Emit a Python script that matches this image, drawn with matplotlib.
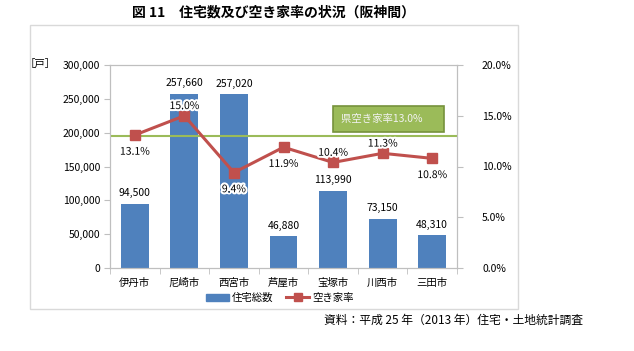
import matplotlib
matplotlib.use("Agg")
import matplotlib.pyplot as plt
import matplotlib.patheffects as pe
from matplotlib.patches import Rectangle
from matplotlib.lines import Line2D
from matplotlib.ticker import FuncFormatter

plt.rcParams['font.family'] = ['Noto Sans CJK JP', 'DejaVu Sans']

cities = ['伊丹市', '尼崎市', '西宮市', '芦屋市', '宝塚市', '川西市', '三田市']
houses = [94500, 257660, 257020, 46880, 113990, 73150, 48310]
vacancy = [13.1, 15.0, 9.4, 11.9, 10.4, 11.3, 10.8]
label_pos = ['below', 'above', 'below', 'below', 'above', 'above', 'below']
pref_rate = 13.0

blue = '#4F81BD'
red = '#C0504D'
green = '#9BBB59'
grey = '#BFBFBF'
fs = 7.5

fig = plt.figure(figsize=(6.34, 3.51), dpi=100)

# outer chart frame
fig.patches.append(Rectangle((30 / 634, 1 - 309 / 351), (518 - 30) / 634, (309 - 25) / 351,
                             transform=fig.transFigure, fill=False, edgecolor='#D9D9D9', lw=1))

ax = fig.add_axes([110 / 634, 1 - 268 / 351, (457 - 110) / 634, (268 - 65) / 351])
x = range(len(cities))
ax.bar(x, houses, width=0.56, color=blue, zorder=2)
ax.set_xlim(-0.5, len(cities) - 0.5)
ax.set_ylim(0, 300000)
ax.set_yticks(range(0, 300001, 50000))
ax.yaxis.set_major_formatter(FuncFormatter(lambda v, p: f'{int(v):,}'))
ax.set_xticks(list(x))
ax.set_xticklabels(cities, fontsize=fs)
ax.set_xticks([i + 0.5 for i in range(-1, len(cities))], minor=True)
ax.tick_params(axis='x', which='major', length=0, pad=7)
ax.tick_params(axis='x', which='minor', length=4, color=grey)
ax.tick_params(axis='y', labelsize=fs, length=4, color=grey, pad=3)
for s in ax.spines.values():
    s.set_color(grey)

for i, h in enumerate(houses):
    ax.annotate(f'{h:,}', (i, h), xytext=(0, 4), textcoords='offset points',
                ha='center', va='bottom', fontsize=fs)

ax2 = ax.twinx()
ax2.set_ylim(0, 20)
ax2.set_yticks([0, 5, 10, 15, 20])
ax2.yaxis.set_major_formatter(FuncFormatter(lambda v, p: f'{v:.1f}%'))
ax2.tick_params(axis='y', labelsize=fs, length=4, color=grey, pad=14)
for s in ax2.spines.values():
    s.set_color(grey)

ax2.axhline(pref_rate, color=green, lw=1.5, zorder=1)
ax2.plot(list(x), vacancy, color=red, lw=2.2, marker='s', markersize=7, zorder=3)
for i, (v, pos) in enumerate(zip(vacancy, label_pos)):
    dy = 7 if pos == 'above' else -12
    t = ax2.annotate(f'{v:.1f}%', (i, v), xytext=(0, dy), textcoords='offset points',
                     ha='center', va='center', fontsize=fs, zorder=4)
    t.set_path_effects([pe.withStroke(linewidth=3, foreground='white')])

# callout box for the prefecture rate
ax2.text(5.12, 14.7, '県空き家率13.0%      ', ha='center', va='center', fontsize=fs,
         color='#F2F2F2', zorder=5,
         bbox=dict(boxstyle='square,pad=0.75', facecolor=green, edgecolor='#76923C', lw=1.2))

fig.text(56 / 634, 1 - 64 / 351, '［戸］', ha='right', va='center', fontsize=fs)

handles = [Rectangle((0, 0), 1, 1, color=blue),
           Line2D([], [], color=red, lw=2.2, marker='s', markersize=6)]
fig.legend(handles, ['住宅総数', '空き家率'], loc='center', bbox_to_anchor=(280 / 634, 1 - 298 / 351),
           ncol=2, frameon=False, fontsize=fs, handlelength=2.2, handletextpad=0.3,
           columnspacing=1.2, borderaxespad=0)

fig.text(273 / 634, 1 - 13 / 351, '図 11　住宅数及び空き家率の状況（阪神間）', ha='center', va='center',
         fontsize=10, fontweight='bold')
fig.text(583 / 634, 1 - 320 / 351, '資料：平成 25 年（2013 年）住宅・土地統計調査', ha='right', va='center',
         fontsize=8.5)

fig.savefig('out.png', dpi=100)
